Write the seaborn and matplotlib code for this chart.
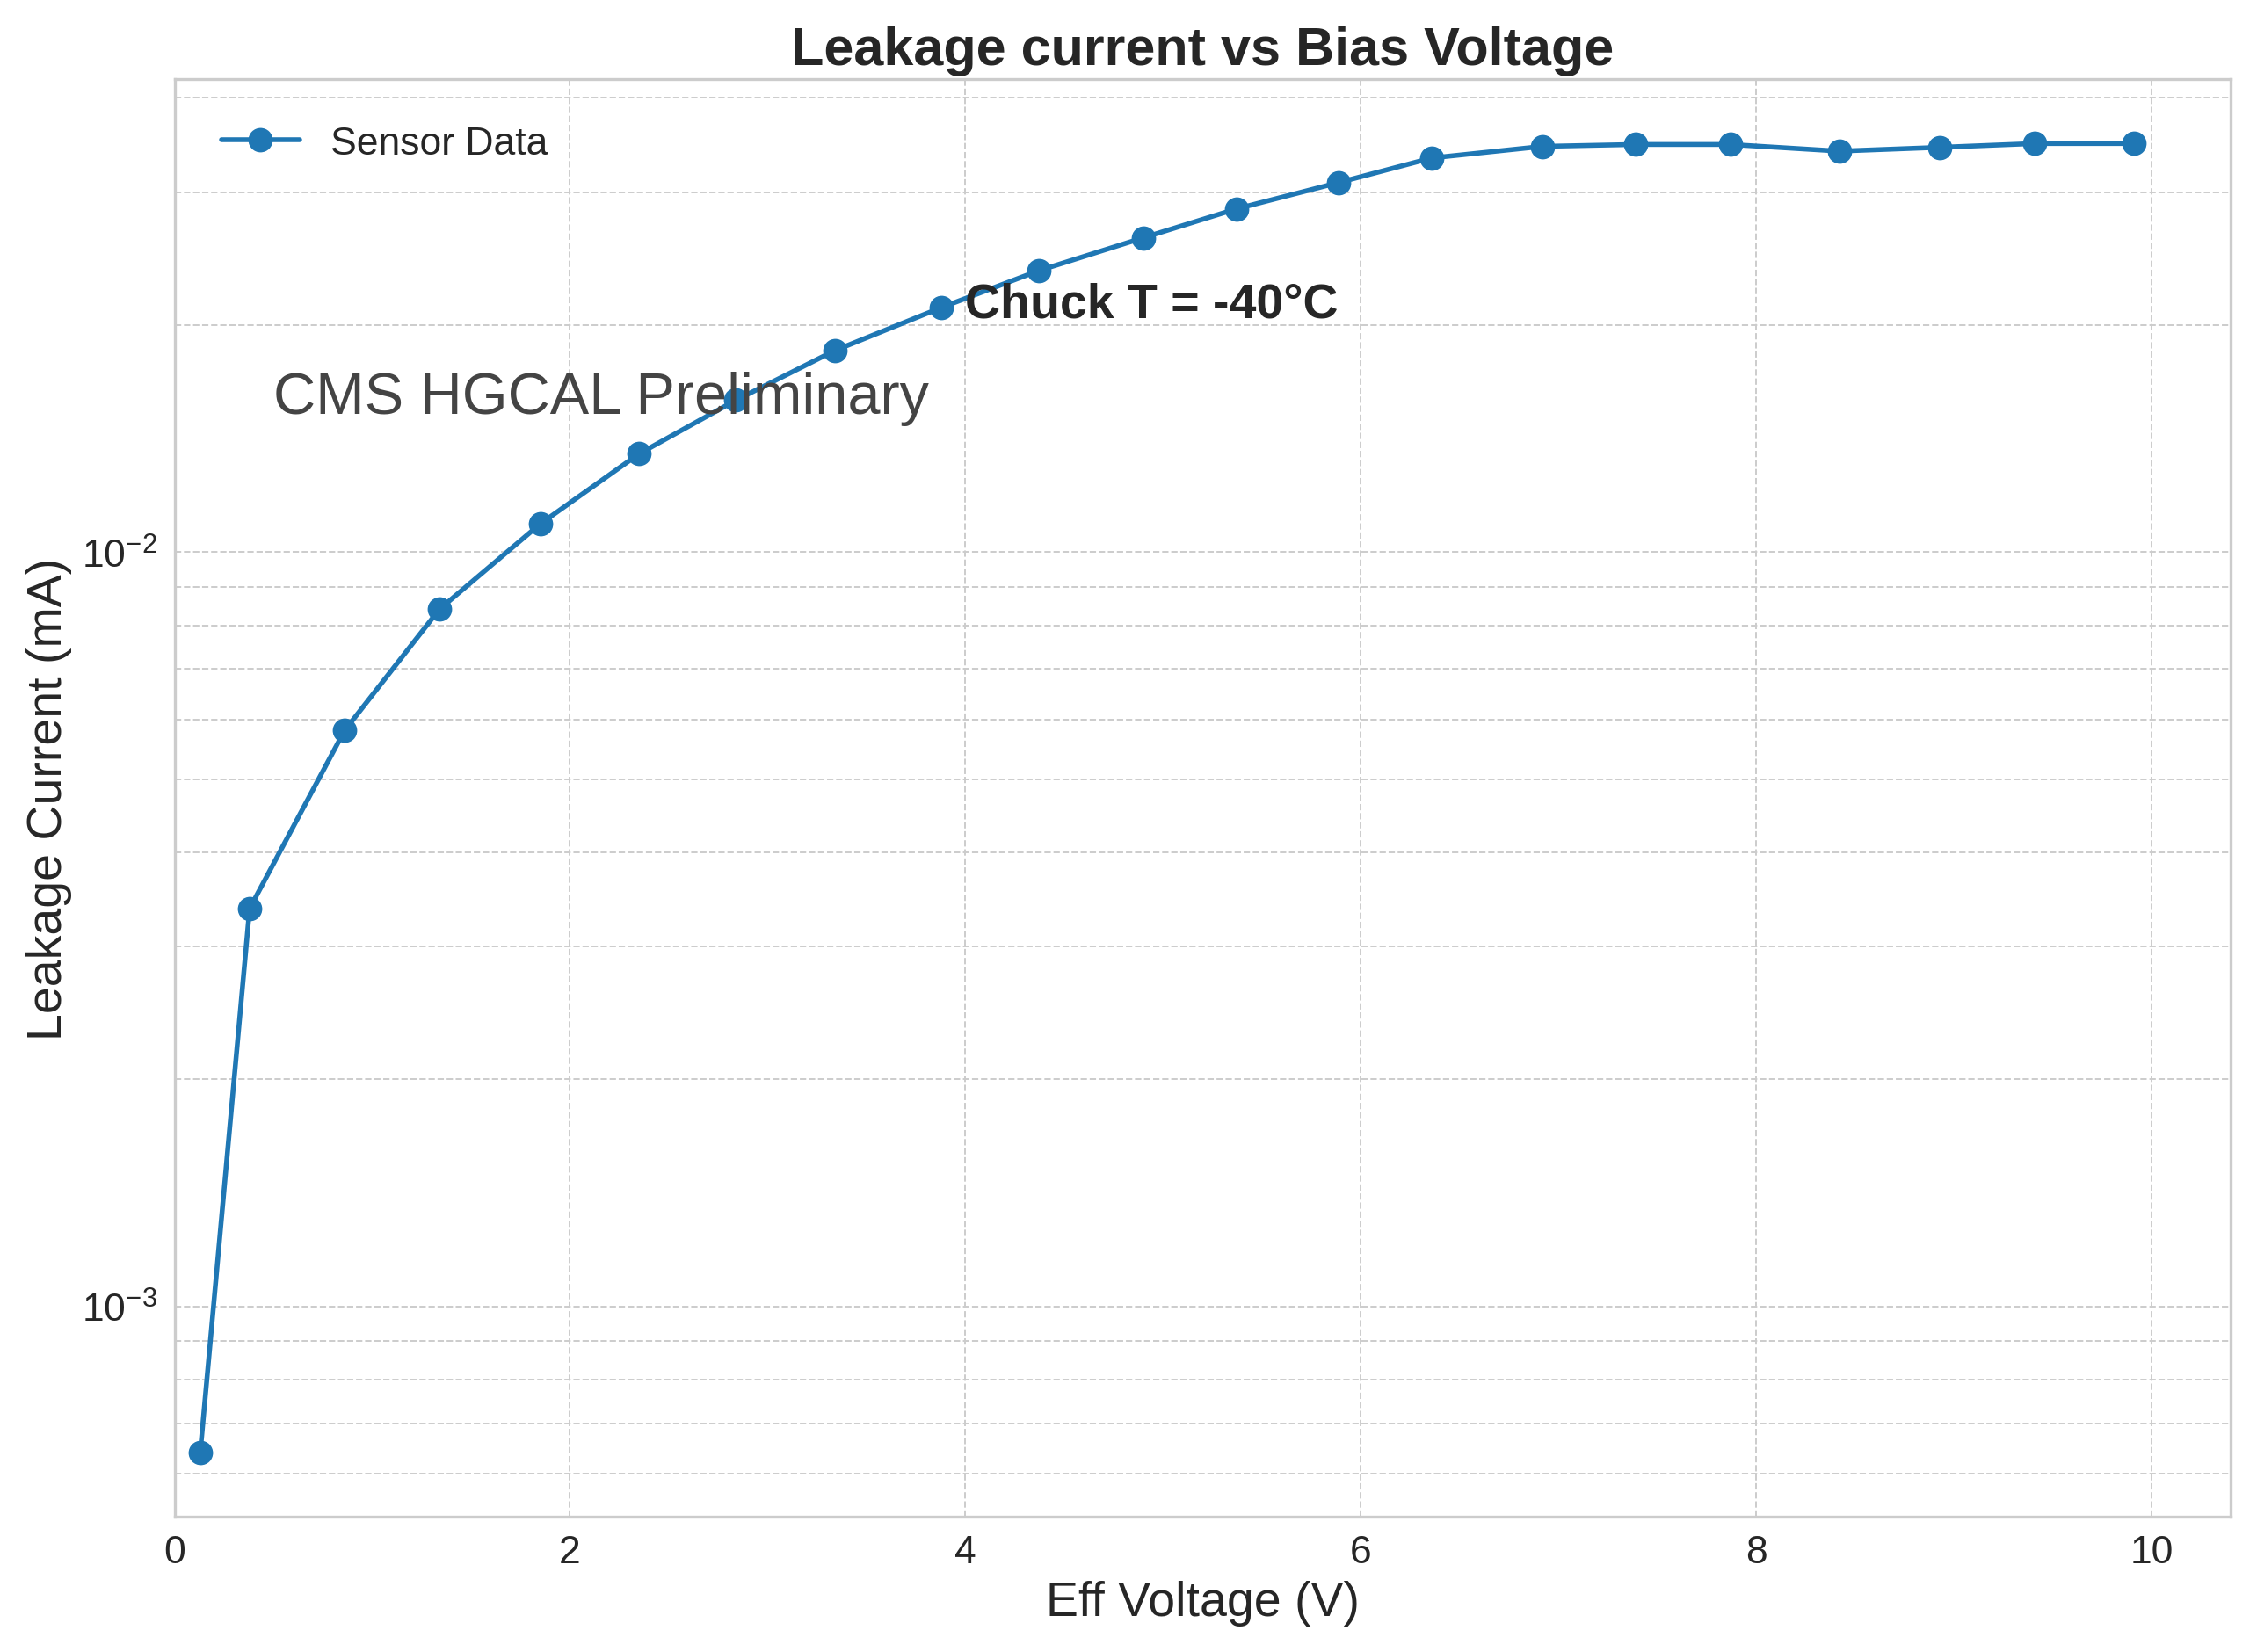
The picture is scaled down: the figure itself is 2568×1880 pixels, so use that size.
import numpy as np
import pandas as pd
import matplotlib
matplotlib.use("Agg")
import matplotlib.pyplot as plt
import seaborn as sns

voltage = [0.13, 0.38, 0.86, 1.34, 1.85, 2.35, 2.84, 3.34, 3.88, 4.37, 4.90,
           5.37, 5.89, 6.36, 6.92, 7.39, 7.87, 8.42, 8.93, 9.41, 9.91]
current = [6.4e-4, 3.37e-3, 5.8e-3, 8.4e-3, 0.0109, 0.0135, 0.0159, 0.0185,
           0.0211, 0.0236, 0.0261, 0.0285, 0.0309, 0.0333, 0.0345, 0.0347,
           0.0347, 0.0340, 0.0344, 0.0348, 0.0348]

df = pd.DataFrame({"Eff Voltage (V)": voltage, "Leakage Current (mA)": current})

sns.set_style("whitegrid")
plt.rcParams["font.family"] = ["Arial", "Liberation Sans", "DejaVu Sans"]

fig, ax = plt.subplots(figsize=(12.84, 9.405), dpi=200)
sns.lineplot(data=df, x="Eff Voltage (V)", y="Leakage Current (mA)", marker="o",
             markersize=10, color="#1f77b4", linewidth=2, markeredgewidth=0,
             label="Sensor Data", ax=ax)
ax.set_yscale("log")
ax.set_xlim(0, 10.4)
ax.set_ylim(5.26e-4, 0.0424)
ax.grid(True, which="both", linestyle="--", linewidth=0.7, color="#cccccc")
ax.set_title("Leakage current vs Bias Voltage", fontsize=22, fontweight="bold")
ax.set_xlabel("Eff Voltage (V)", fontsize=20)
ax.set_ylabel("Leakage Current (mA)", fontsize=20)
ax.tick_params(labelsize=16)
ax.text(0.5, 0.0153, "CMS HGCAL Preliminary", fontsize=24, color="#444444")
ax.text(4.0, 0.0205, "Chuck T = -40°C", fontsize=20, fontweight="bold")
ax.legend(loc="upper left", fontsize=16, frameon=False, borderaxespad=0.8)
for s in ax.spines.values():
    s.set_color("#cccccc")
    s.set_linewidth(1.2)
plt.tight_layout()
plt.savefig("out.png", dpi=200)
